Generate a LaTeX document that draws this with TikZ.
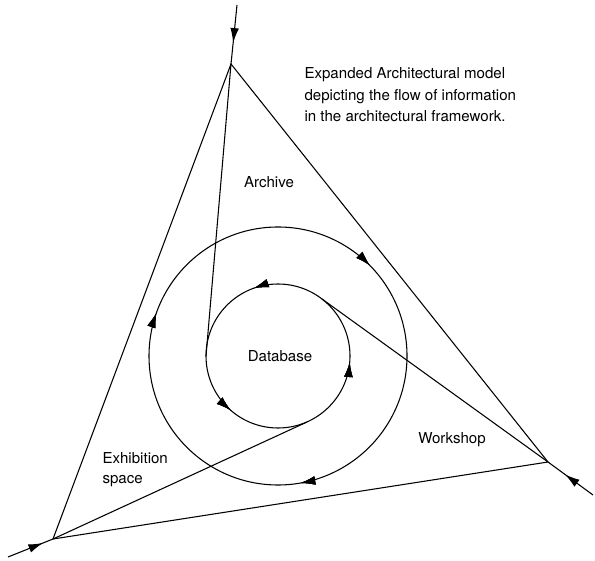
\documentclass[tikz,border=0pt]{standalone}
\usepackage{fontspec}
\setmainfont{TeX Gyre Heros}
\usetikzlibrary{arrows.meta,decorations.markings}
\tikzset{
  flowtip/.style={postaction={decorate},decoration={markings,
      mark=at position #1 with {\arrow{Latex[length=11pt,width=6.5pt]}}}},
  backtip/.style={postaction={decorate},decoration={markings,
      mark=at position #1 with {\arrowreversed{Latex[length=11pt,width=6.5pt]}}}},
  lbl/.style={inner sep=0pt,font=\fontsize{11.3}{16.1}\selectfont}
}
\begin{document}
\begin{tikzpicture}[x=0.75pt,y=0.75pt,line width=0.8pt]
        \useasboundingbox (0,0) rectangle (595,560);
        % corners of the triangle
        \coordinate (top) at (231,496);
        \coordinate (left) at (53,21);
        \coordinate (right) at (548,98);
        \coordinate (topin) at (237,555);
        \coordinate (leftin) at (8,3);
        \coordinate (rightin) at (593,65);
        \coordinate (ctr) at (278,204);
        % where the lines meet the inner ring
        \coordinate (tA) at (206,204);
        \coordinate (tW) at (322,261);
        \coordinate (tE) at (307,138);
        \draw (top) -- (left) -- (right) -- cycle;
        \draw [flowtip=.64](topin) -- (top);
        \draw [flowtip=.78](leftin) -- (left);
        \draw [flowtip=.62](rightin) -- (right);
        \draw (top) -- (tA);
        \draw (right) -- (tW);
        \draw (left) -- (tE);
        % rings
        \draw [backtip=.124,backtip=.446,backtip=.778](ctr) circle [radius=129];
        \draw [flowtip=.304,flowtip=.636,flowtip=.986](ctr) circle [radius=72];
        \node [lbl] (archive) at (269,378) {Archive};
        \node [lbl] (database) at (280,204) {Database};
        \node [lbl] (workshop) at (452,120) {Workshop};
        \node [lbl,anchor=west,align=left,font=\fontsize{11.3}{15}\selectfont] (exhibition) at (102,90) {Exhibition\\space};
        \node [lbl,anchor=west,align=left] (caption) at (304,465) {Expanded Architectural model\\depicting the flow of information\\in the architectural framework.};
    \end{tikzpicture}
\end{document}
